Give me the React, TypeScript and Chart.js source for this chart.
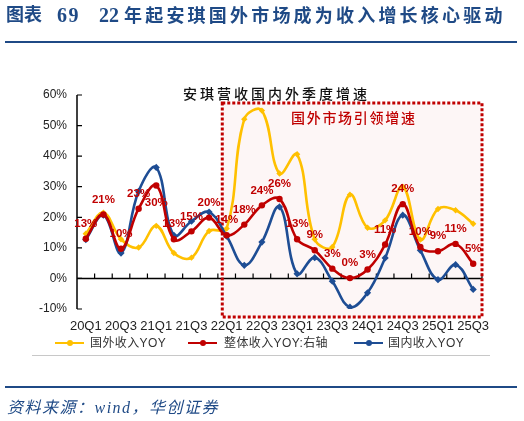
import React, { useEffect, useRef } from 'react';
import { Chart, registerables } from 'chart.js';

Chart.register(...registerables);

// ---------------- data ----------------
const categories = [
  '20Q1', '20Q2', '20Q3', '20Q4', '21Q1', '21Q2', '21Q3', '21Q4',
  '22Q1', '22Q2', '22Q3', '22Q4', '23Q1', '23Q2', '23Q3', '23Q4',
  '24Q1', '24Q2', '24Q3', '24Q4', '25Q1', '25Q2', '25Q3',
];
const overseasYoY = [
  14.6, 21.5, 12.8, 10.1, 17.2, 8.3, 6.8, 15.5,
  16.3, 52.1, 54.9, 34.3, 40.6, 12.8, 10.3, 27.4,
  16.6, 19.0, 30.0, 12.7, 22.7, 22.3, 17.9,
];
const totalYoY = [
  13.0, 20.9, 9.7, 22.8, 30.4, 12.8, 15.4, 19.9,
  14.1, 17.6, 23.9, 26.0, 12.8, 9.2, 3.2, 0.1,
  2.9, 11.1, 24.3, 10.3, 8.9, 11.3, 4.8,
];
const domesticYoY = [
  12.7, 20.7, 8.3, 28.5, 36.3, 14.1, 18.7, 21.7,
  13.8, 4.3, 11.9, 23.4, 1.5, 6.8, -0.9, -9.4,
  -4.7, 6.7, 20.7, 9.2, -0.4, 4.5, -3.6,
];
const yMin = -10;
const yMax = 60;
const yStep = 10;
const highlightStart = '22Q1';
const labelsBelow = ['21Q1'];

// ---------------- styles ----------------
const YELLOW = '#FFC000';
const RED = '#C00000';
const BLUE = '#1E4D94';
const TITLE_BLUE = '#1F4A86';
const W = 524;
const H = 421;

const decorPlugin = {
  id: 'decor',
  beforeDatasetsDraw(chart: any) {
    const { ctx, chartArea: ca, scales } = chart;
    const x = scales.x;
    const y = scales.y;
    const n = categories.length;
    const cat = (ca.right - ca.left) / n;
    const bx0 = x.getPixelForValue(categories.indexOf(highlightStart)) - cat * 0.25;
    const bx1 = ca.right;
    const by0 = ca.top + 8;
    const by1 = ca.bottom + 8;
    ctx.save();
    // highlight box fill
    ctx.fillStyle = 'rgba(192,0,0,0.035)';
    ctx.fillRect(bx0, by0, bx1 - bx0, by1 - by0);

    // zero line with upward ticks
    const y0 = y.getPixelForValue(0);
    ctx.strokeStyle = '#000';
    ctx.lineWidth = 1.5;
    ctx.beginPath();
    ctx.moveTo(ca.left, y0);
    ctx.lineTo(ca.right, y0);
    ctx.stroke();
    ctx.lineWidth = 1.2;
    ctx.beginPath();
    for (let i = 1; i <= n; i++) {
      const px = ca.left + cat * i;
      ctx.moveTo(px, y0);
      ctx.lineTo(px, y0 - 5);
    }
    ctx.stroke();

    // y axis line with inward ticks
    ctx.lineWidth = 1.5;
    ctx.beginPath();
    ctx.moveTo(ca.left, y.getPixelForValue(yMax));
    ctx.lineTo(ca.left, y.getPixelForValue(yMin));
    ctx.stroke();
    ctx.lineWidth = 1.2;
    ctx.beginPath();
    for (let v = yMin; v <= yMax; v += yStep) {
      const py = y.getPixelForValue(v);
      ctx.moveTo(ca.left, py);
      ctx.lineTo(ca.left + 5, py);
    }
    ctx.stroke();

    // dotted border of highlight box
    ctx.strokeStyle = RED;
    ctx.lineWidth = 3;
    ctx.setLineDash([3, 2]);
    ctx.strokeRect(bx0, by0, bx1 - bx0, by1 - by0);
    ctx.restore();
  },
  afterDatasetsDraw(chart: any) {
    const { ctx } = chart;
    const meta = chart.getDatasetMeta(1);
    ctx.save();
    ctx.font = "bold 11.5px 'Liberation Sans', Arial, sans-serif";
    ctx.fillStyle = RED;
    ctx.textAlign = 'center';
    ctx.textBaseline = 'middle';
    meta.data.forEach((pt: any, i: number) => {
      const below = labelsBelow.includes(categories[i]);
      const txt = Math.round(totalYoY[i]) + '%';
      ctx.fillText(txt, pt.x, pt.y + (below ? 17 : -15));
    });
    ctx.restore();
  },
};

function LegendItem({ left, color, text, textLeft }: any) {
  return (
    <>
      <div style={{ position: 'absolute', left, top: 341.5, width: 29, height: 2.5, background: color }} />
      <div style={{ position: 'absolute', left: left + 11.5, top: 339.8, width: 6, height: 6, borderRadius: 3, background: color }} />
      <div style={{ position: 'absolute', left: textLeft, top: 334, lineHeight: '18px', fontSize: 12, color: '#333', whiteSpace: 'nowrap', letterSpacing: 0.4, fontFamily: "'Liberation Sans', 'Noto Sans CJK SC', sans-serif" }}>{text}</div>
    </>
  );
}

export default function App() {
  const ref = useRef<HTMLCanvasElement | null>(null);

  useEffect(() => {
    if (!ref.current) return;
    Chart.defaults.font.family = "'Liberation Sans', Arial, sans-serif";
    const chart = new Chart(ref.current, {
      type: 'line',
      data: {
        labels: categories,
        datasets: [
          {
            label: '国外收入YOY',
            data: overseasYoY,
            borderColor: YELLOW,
            backgroundColor: YELLOW,
            borderWidth: 2.6,
            tension: 0.4,
            pointRadius: 3.2,
            pointStyle: 'rectRot',
            pointBorderWidth: 0,
            order: 3,
          },
          {
            label: '整体收入YOY:右轴',
            data: totalYoY,
            borderColor: RED,
            backgroundColor: RED,
            borderWidth: 2.6,
            tension: 0.4,
            pointRadius: 3.2,
            pointStyle: 'circle',
            pointBorderWidth: 0,
            order: 1,
          },
          {
            label: '国内收入YOY',
            data: domesticYoY,
            borderColor: BLUE,
            backgroundColor: BLUE,
            borderWidth: 2.6,
            tension: 0.4,
            pointRadius: 3.6,
            pointStyle: 'rectRot',
            pointBorderWidth: 0,
            order: 2,
          },
        ],
      },
      options: {
        animation: false,
        responsive: false,
        maintainAspectRatio: false,
        layout: { padding: { top: 95, right: 42, left: 0, bottom: 0 } },
        scales: {
          x: {
            type: 'category',
            offset: true,
            grid: { display: false, drawTicks: false },
            border: { display: false },
            ticks: {
              autoSkip: false,
              maxRotation: 0,
              minRotation: 0,
              padding: 10,
              color: '#222',
              font: { size: 13 },
              callback: (_v: any, i: number) => (i % 2 === 0 ? categories[i] : ''),
            },
            afterFit: (s: any) => {
              s.height = H - 309;
            },
          },
          y: {
            min: yMin,
            max: yMax,
            grid: { display: false, drawTicks: false },
            border: { display: false },
            ticks: {
              stepSize: yStep,
              padding: 10,
              color: '#222',
              font: { size: 12 },
              callback: (v: any) => v + '%',
            },
            afterFit: (s: any) => {
              s.width = 77;
            },
          },
        },
        plugins: {
          legend: { display: false },
          tooltip: { enabled: false },
          title: { display: false },
        },
      } as any,
      plugins: [decorPlugin],
    });
    return () => chart.destroy();
  }, []);

  const cjk = "'Liberation Serif', 'Noto Sans CJK SC', serif";
  return (
    <div style={{ position: 'fixed', left: 0, top: 0, width: W, height: H, background: '#fff', overflow: 'hidden' }}>
      <canvas ref={ref} width={W} height={H} style={{ position: 'absolute', left: 0, top: 0 }} />
      {/* header */}
      <div style={{ position: 'absolute', left: 6, top: 3, lineHeight: '24px', fontSize: 18, fontWeight: 700, color: TITLE_BLUE, fontFamily: cjk, whiteSpace: 'nowrap' }}>图表</div>
      <div style={{ position: 'absolute', left: 57, top: 3, lineHeight: '24px', fontSize: 20, fontWeight: 700, color: TITLE_BLUE, fontFamily: cjk, letterSpacing: 1.5 }}>69</div>
      <div style={{ position: 'absolute', left: 99, top: 3, lineHeight: '24px', fontSize: 20, fontWeight: 700, color: TITLE_BLUE, fontFamily: cjk, whiteSpace: 'nowrap' }}>
        22<span style={{ fontSize: 18, letterSpacing: 3.2, marginLeft: 5 }}>年起安琪国外市场成为收入增长核心驱动</span>
      </div>
      <div style={{ position: 'absolute', left: 5, top: 40.5, width: 512, height: 2, background: TITLE_BLUE }} />

      {/* chart title */}
      <div style={{ position: 'absolute', left: 183, top: 84, lineHeight: '18px', fontSize: 14, fontWeight: 500, color: '#111', letterSpacing: 3, fontFamily: "'Noto Sans CJK SC', sans-serif", whiteSpace: 'nowrap' }}>安琪营收国内外季度增速</div>
      {/* highlight note */}
      <div style={{ position: 'absolute', left: 291, top: 108, lineHeight: '18px', fontSize: 14, fontWeight: 500, color: RED, letterSpacing: 1.7, fontFamily: "'Noto Sans CJK SC', sans-serif", whiteSpace: 'nowrap' }}>国外市场引领增速</div>

      {/* legend */}
      <LegendItem left={55} color={YELLOW} text="国外收入YOY" textLeft={90} />
      <LegendItem left={188} color={RED} text="整体收入YOY:右轴" textLeft={224} />
      <LegendItem left={354} color={BLUE} text="国内收入YOY" textLeft={388} />
      <div style={{ position: 'absolute', left: 32, top: 355, width: 458, height: 1, background: '#c8c8c8' }} />

      {/* footer */}
      <div style={{ position: 'absolute', left: 5, top: 386, width: 512, height: 2, background: TITLE_BLUE }} />
      <div style={{ position: 'absolute', left: 7, top: 397, lineHeight: '22px', fontSize: 16, fontStyle: 'italic', color: TITLE_BLUE, letterSpacing: 1.5, fontFamily: cjk, whiteSpace: 'nowrap' }}>资料来源：wind，华创证券</div>
    </div>
  );
}
